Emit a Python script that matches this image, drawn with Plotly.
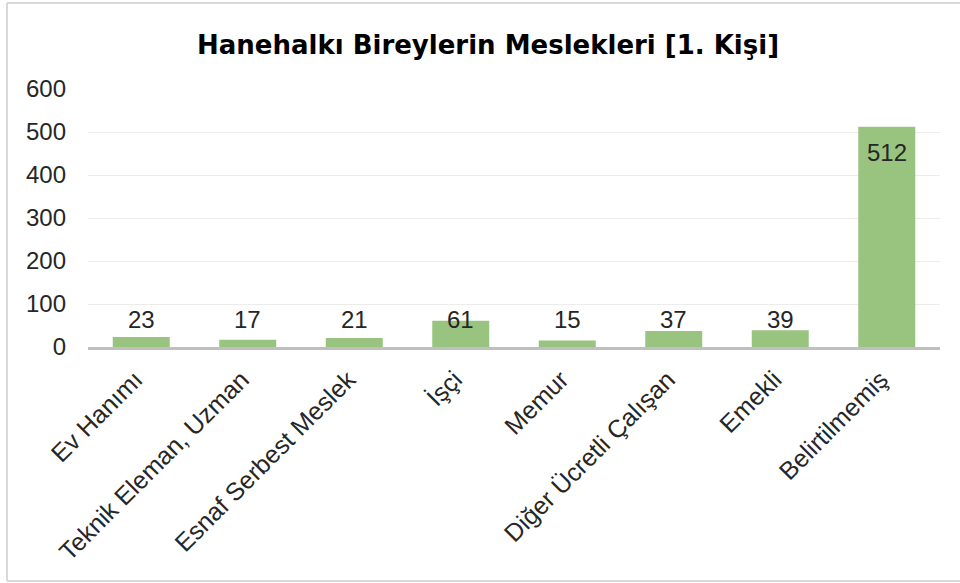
import plotly.graph_objects as go

categories = ["Ev Hanımı", "Teknik Eleman, Uzman", "Esnaf Serbest Meslek", "İşçi",
              "Memur", "Diğer Ücretli Çalışan", "Emekli", "Belirtilmemiş"]
values = [23, 17, 21, 61, 15, 37, 39, 512]
y_ticks = [0, 100, 200, 300, 400, 500, 600]
title_text = "Hanehalkı Bireylerin Meslekleri [1. Kişi]"

FONT = "Liberation Sans, Arial, sans-serif"
TFONT = "DejaVu Sans, Liberation Sans, sans-serif"
W, H = 960, 583
L, R, T, B = 88, 20, 89, 236
pw, ph = W - L - R, H - T - B


def px_x(p):
    return (p - L) / pw


def px_y(p):
    return (H - B - p) / ph


fig = go.Figure()
fig.add_trace(go.Bar(
    x=categories, y=values,
    marker=dict(color="#99c47f", line=dict(width=0)),
    hoverinfo="x+y",
))

annotations = []
for c, v in zip(categories, values):
    if v > 300:
        annotations.append(dict(x=c, y=v, text=str(v), showarrow=False,
                                xref="x", yref="y", yanchor="top", yshift=-10,
                                font=dict(family=FONT, size=24, color="#262626")))
    else:
        annotations.append(dict(x=c, y=63, text=str(v), showarrow=False,
                                xref="x", yref="y", yanchor="middle",
                                font=dict(family=FONT, size=24, color="#262626")))

annotations.append(dict(text=title_text, x=px_x(488), xref="paper", xanchor="center",
                        y=px_y(45), yref="paper", yanchor="middle", showarrow=False,
                        font=dict(family=TFONT, size=26, color="#000000", weight="bold")))

shapes = [
    dict(type="line", xref="paper", yref="paper", x0=px_x(7), x1=px_x(7), y0=px_y(581), y1=px_y(3),
         line=dict(color="#d9d9d9", width=2)),
    dict(type="line", xref="paper", yref="paper", x0=px_x(7), x1=px_x(975), y0=px_y(3), y1=px_y(3),
         line=dict(color="#d9d9d9", width=2)),
    dict(type="line", xref="paper", yref="paper", x0=px_x(7), x1=px_x(975), y0=px_y(581), y1=px_y(581),
         line=dict(color="#d9d9d9", width=2)),
]

fig.update_layout(
    width=W, height=H,
    margin=dict(l=L, r=R, t=T, b=B, pad=0),
    paper_bgcolor="white", plot_bgcolor="white",
    showlegend=False,
    bargap=0.465,
    annotations=annotations,
    shapes=shapes,
    font=dict(family=FONT, color="#262626"),
)
fig.update_xaxes(
    showgrid=False, showline=True, linecolor="#bfbfbf", linewidth=3,
    tickangle=-45, tickfont=dict(family=FONT, size=25, color="#262626"),
    ticks="", zeroline=False, ticklabelstandoff=5, ticklabelshift=-6,
)
fig.update_yaxes(
    range=[0, 600], tickvals=y_ticks, ticktext=[str(t) for t in y_ticks],
    showgrid=True, gridcolor="#ececec", gridwidth=1,
    zeroline=False, showline=False, ticks="", ticklabelstandoff=21,
    tickfont=dict(family=FONT, size=24, color="#262626"),
)

fig.write_html(
    "out.html",
    config={"displayModeBar": False},
    post_script="document.body.style.margin='0';document.body.style.overflow='hidden';",
)
